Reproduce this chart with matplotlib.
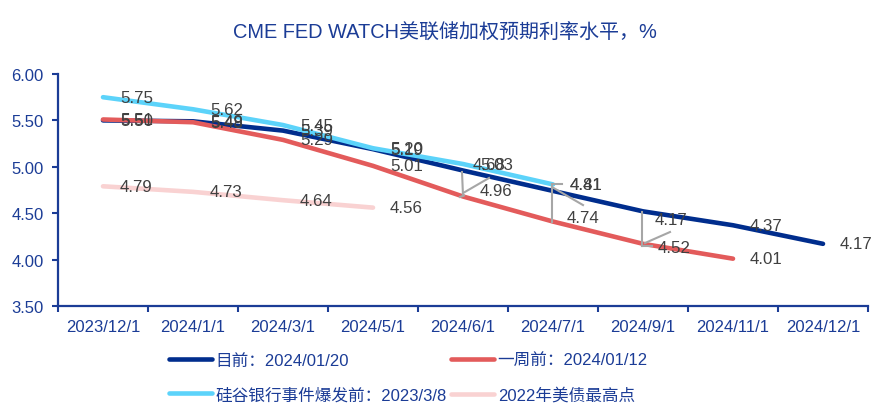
import matplotlib.pyplot as plt
from matplotlib.transforms import IdentityTransform
import numpy as np

plt.rcParams['font.family'] = ['Liberation Sans', 'Noto Sans CJK SC']

# data
categories = ['2023/12/1', '2024/1/1', '2024/3/1', '2024/5/1', '2024/6/1',
              '2024/7/1', '2024/9/1', '2024/11/1', '2024/12/1']
now_0120 = [5.50, 5.49, 5.39, 5.19, 4.96, 4.74, 4.52, 4.37, 4.17]
week_0112 = [5.51, 5.48, 5.29, 5.01, 4.68, 4.41, 4.17, 4.01]
svb_0308 = [5.75, 5.62, 5.45, 5.20, 5.03, 4.81]
peak_2022 = [4.79, 4.73, 4.64, 4.56]

names = ['目前：2024/01/20', '一周前：2024/01/12',
         '硅谷银行事件爆发前：2023/3/8', '2022年美债最高点']
series = [now_0120, week_0112, svb_0308, peak_2022]
colors = ['#002D8D', '#E35B5B', '#5CD3FA', '#F9D2D2']

axis_col = '#1B3C96'
label_col = '#404040'

# label offsets in pixels (dx, dy up) where the labels were dragged off the point
moved = {(1, 4): (10, 32), (0, 4): (17, -20),
         (1, 5): (17, 37), (0, 5): (14, -27),
         (0, 6): (15, -36), (1, 6): (12, 24)}

# leader lines: pixel offsets (image y down) from the red point
leaders = {4: [[(-1, -24.5), (0, -1)], [(1, -4), (26, -18.5)], [(-3, 0.5), (1, -1)]],
           5: [[(-1, -37.5), (-1, 0.5)], [(-1, -37.5), (9, -37.5)], [(-1, -34.5), (30, -16.5)]],
           6: [[(-1, -31.8), (-1, 2.2)], [(-1, 2.2), (9, 2.2)], [(2, -0.8), (27, -11.8)]]}

fig = plt.figure(figsize=(8.9, 4.14), dpi=100)
ax = fig.add_axes([58 / 890, (414 - 307) / 414, 810 / 890, 232 / 414])

handles = []
for k, vals in enumerate(series):
    x = np.arange(len(vals))
    h, = ax.plot(x, vals, color=colors[k], lw=3.3, solid_capstyle='round',
                 zorder=2 + k, label=names[k])
    handles.append(h)

ax.set_xlim(-0.5, len(categories) - 0.5)
ax.set_ylim(3.5, 6.0)
ax.set_yticks(np.arange(3.5, 6.01, 0.5))
ax.set_yticklabels(['%.2f' % v for v in np.arange(3.5, 6.01, 0.5)])
ax.set_xticks(np.arange(len(categories)))
ax.set_xticklabels(categories)
ax.set_xticks(np.arange(-0.5, len(categories)), minor=True)

for s in ['top', 'right']:
    ax.spines[s].set_visible(False)
for s in ['left', 'bottom']:
    ax.spines[s].set_color(axis_col)
    ax.spines[s].set_linewidth(1.6)

ax.tick_params(axis='x', which='major', length=0, pad=9, labelsize=12, labelcolor=axis_col)
ax.tick_params(axis='x', which='minor', length=4.5, width=1.5, color=axis_col, direction='out')
ax.tick_params(axis='y', length=4.5, width=1.5, color=axis_col, pad=6,
               labelsize=12, labelcolor=axis_col)

for k, vals in enumerate(series):
    for i, v in enumerate(vals):
        dx, dy = moved.get((k, i), (17, 0))
        ax.annotate('%.2f' % v, (i, v), xytext=(dx, dy), textcoords='offset pixels',
                    ha='left', va='center', fontsize=12.2, color=label_col, zorder=10)

for i, segs in leaders.items():
    px, py = ax.transData.transform((i, week_0112[i]))
    for seg in segs:
        xs = [px + d[0] for d in seg]
        ys = [py - d[1] for d in seg]
        ax.plot(xs, ys, color='#A6A6A6', lw=1.5, transform=IdentityTransform(),
                clip_on=False, zorder=9)

fig.text(0.5, 1 - 33 / 414, 'CME FED WATCH美联储加权预期利率水平，%', ha='center',
         va='center', fontsize=14.4, color=axis_col)

order = [0, 2, 1, 3]
fig.legend([handles[j] for j in order], [names[j] for j in order], loc='upper left',
           bbox_to_anchor=(169 / 890, 1 - 354 / 414), ncol=2, frameon=False,
           fontsize=12, labelcolor=axis_col, handlelength=2.6, handletextpad=0.2,
           columnspacing=0.25, labelspacing=1.13, borderpad=0, borderaxespad=0)

fig.savefig('out.png', dpi=100)
